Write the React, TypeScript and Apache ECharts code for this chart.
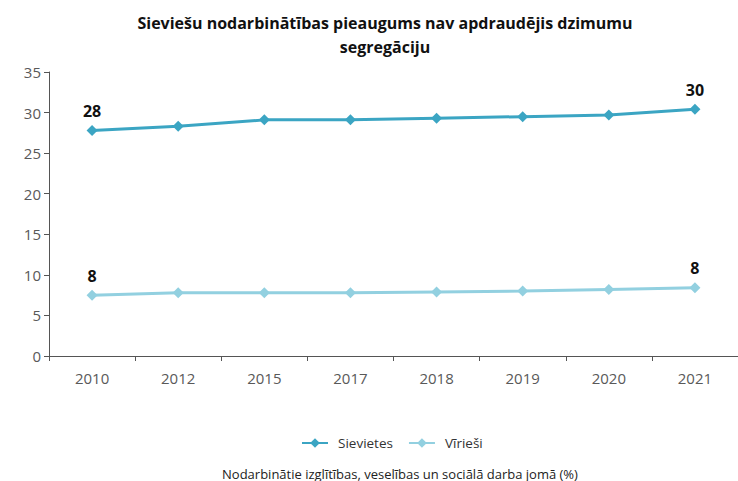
import React, { useEffect, useRef } from "react";
import * as echarts from "echarts";

const categories = ["2010", "2012", "2015", "2017", "2018", "2019", "2020", "2021"];
const sievietes = [27.8, 28.3, 29.1, 29.1, 29.3, 29.5, 29.7, 30.4];
const virieši = [7.5, 7.8, 7.8, 7.8, 7.9, 8.0, 8.2, 8.4];
const yTicks = { min: 0, max: 35, interval: 5 };

const titleLines = ["Sieviešu nodarbinātības pieaugums nav apdraudējis dzimumu", "segregāciju"];
const footnote = "Nodarbinātie izglītības, veselības un sociālā darba jomā (%)";

const FONT = "'Open Sans', 'Noto Sans', sans-serif";

function withEndLabels(values: number[]) {
  return values.map((v, i) => {
    const isEnd = i === 0 || i === values.length - 1;
    return isEnd
      ? { value: v, label: { show: true } }
      : { value: v };
  });
}

export default function App() {
  const ref = useRef<HTMLDivElement>(null);
  useEffect(() => {
    if (!ref.current) return;
    const chart = echarts.init(ref.current, null, { renderer: "svg" });
    const labelStyle = {
      show: false,
      position: "top" as const,
      distance: 6,
      fontFamily: FONT,
      fontSize: 16,
      fontWeight: "bold" as const,
      color: "#111",
      formatter: (p: any) => String(Math.round(p.value)),
    };
    chart.setOption({
      animation: false,
      textStyle: { fontFamily: FONT },
      graphic: [
        {
          type: "text",
          x: 385,
          y: 11,
          style: {
            text: titleLines.join("\n"),
            fontFamily: FONT,
            fontSize: 16,
            fontWeight: "bold",
            fill: "#111",
            lineHeight: 24,
            textAlign: "center",
          },
        },
        {
          type: "text",
          x: 400,
          y: 467,
          style: {
            text: footnote,
            fontFamily: FONT,
            fontSize: 13,
            fill: "#222",
            textAlign: "center",
          },
        },
      ],
      legend: {
        top: 431,
        left: 296,
        itemWidth: 26,
        itemHeight: 12,
        itemGap: 15,
        textStyle: { fontFamily: FONT, fontSize: 13.5, color: "#333", padding: [0, 0, 0, 5] },
        data: ["Sievietes", "Vīrieši"],
      },
      grid: { left: 49, right: -5, top: 72, bottom: 125 },
      xAxis: {
        type: "category",
        data: categories,
        boundaryGap: true,
        axisLine: { lineStyle: { color: "#555", width: 1 } },
        axisTick: { show: true, alignWithLabel: false, length: 5, lineStyle: { color: "#555" } },
        axisLabel: { fontFamily: FONT, fontSize: 15, color: "#595959", margin: 14 },
        splitLine: { show: false },
      },
      yAxis: {
        type: "value",
        min: yTicks.min,
        max: yTicks.max,
        interval: yTicks.interval,
        axisLine: { show: true, lineStyle: { color: "#555", width: 1 } },
        axisTick: { show: true, length: 5, lineStyle: { color: "#555" } },
        axisLabel: { fontFamily: FONT, fontSize: 15, color: "#595959", margin: 8 },
        splitLine: { show: false },
      },
      series: [
        {
          name: "Sievietes",
          type: "line",
          data: withEndLabels(sievietes),
          symbol: "diamond",
          symbolSize: 11,
          lineStyle: { color: "#3ba5c3", width: 3 },
          itemStyle: { color: "#3ba5c3" },
          label: labelStyle,
        },
        {
          name: "Vīrieši",
          type: "line",
          data: withEndLabels(virieši),
          symbol: "diamond",
          symbolSize: 11,
          lineStyle: { color: "#92d0e0", width: 3 },
          itemStyle: { color: "#92d0e0" },
          label: labelStyle,
        },
      ],
    });
    return () => chart.dispose();
  }, []);
  return <div ref={ref} style={{ width: 738, height: 481, position: "absolute", left: 0, top: 0 }} />;
}
